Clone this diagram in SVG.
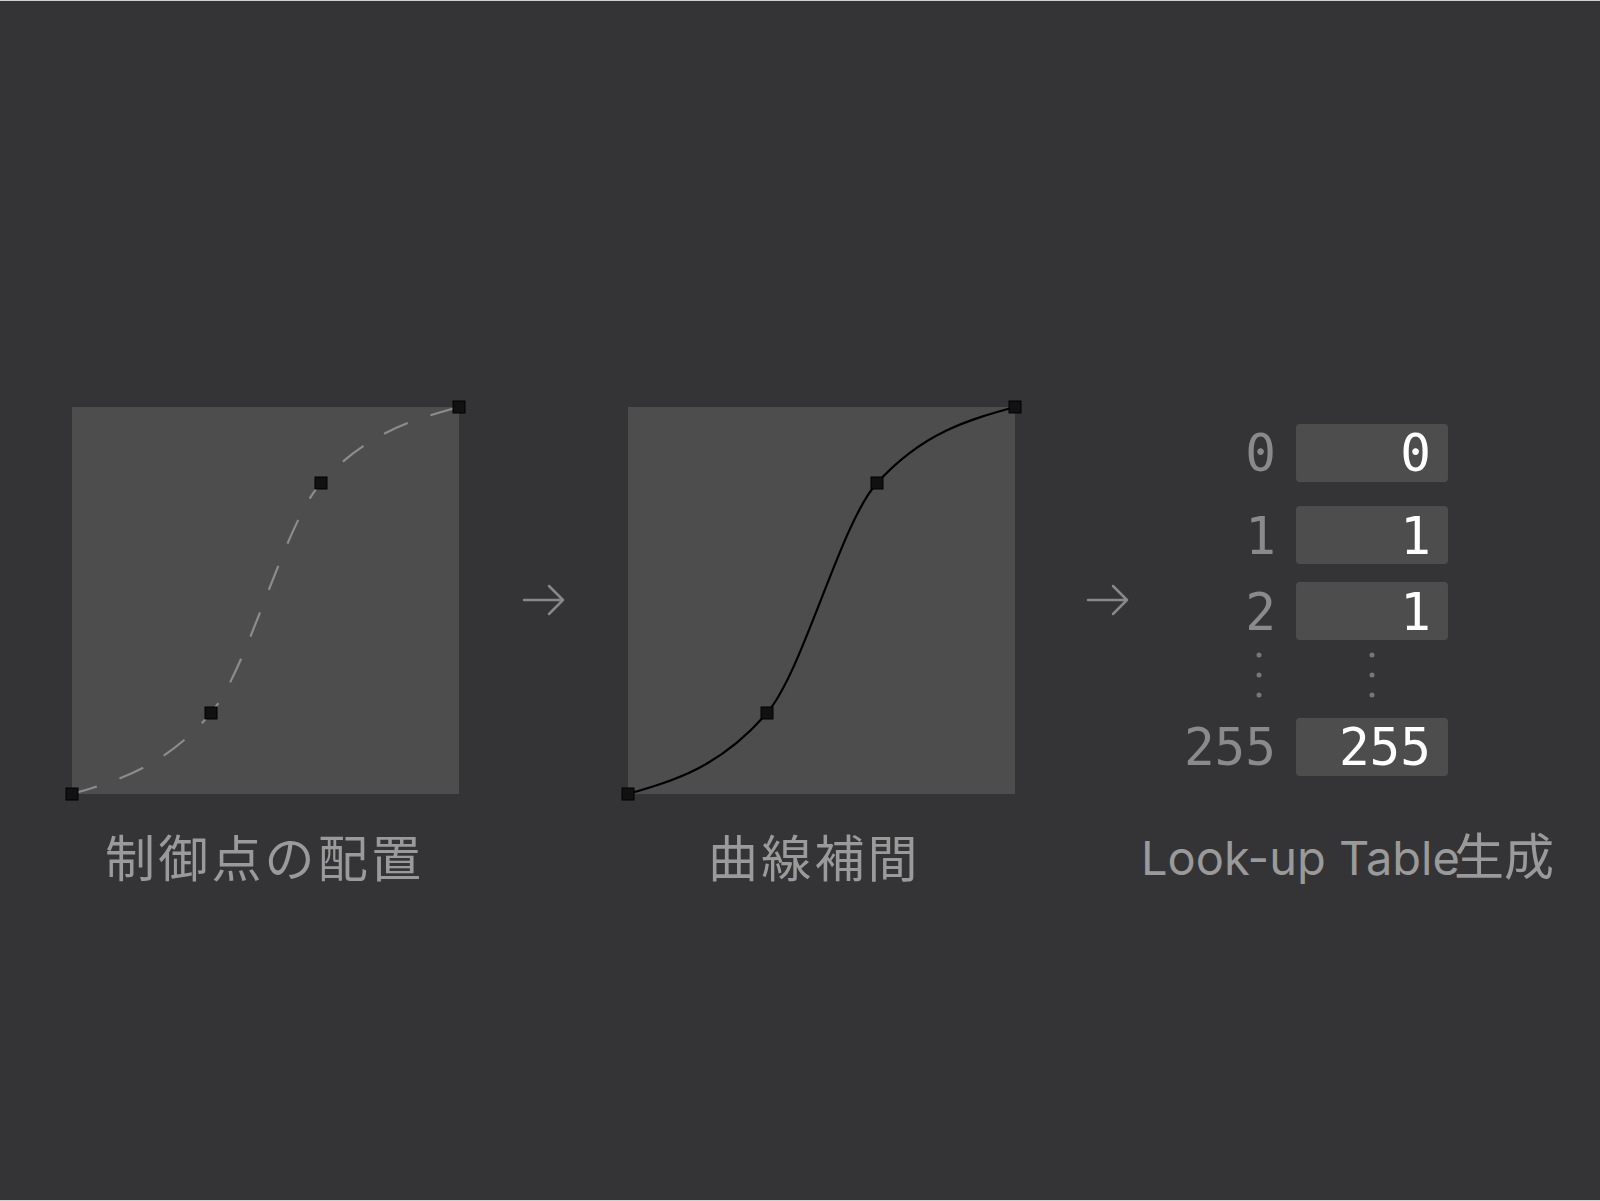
<svg xmlns="http://www.w3.org/2000/svg" width="1600" height="1201" viewBox="0 0 1600 1201">
<defs>
<style>
.bg{fill:#343436}
.panel{fill:#4d4d4d}
.pt{fill:#111111;stroke:#000000;stroke-width:1}
.label{font-family:"Inter","Noto Sans CJK JP",sans-serif;font-size:50px;fill:#9a9a9a}
.cjk{letter-spacing:3.2px}
.idx{font-family:"DejaVu Sans Mono","Liberation Mono",monospace;font-size:51px;fill:#8a8a8a;text-anchor:end}
.val{font-family:"DejaVu Sans Mono","Liberation Mono",monospace;font-size:51px;fill:#ffffff;text-anchor:end}
.cell{fill:#4d4d4d}
.dot{fill:#777777}
.arrow{fill:none;stroke:#888888;stroke-width:2.5;stroke-linecap:round;stroke-linejoin:round}
</style>
</defs>
<rect class="bg" x="0" y="0" width="1600" height="1201"/>
<rect x="0" y="0" width="1600" height="1" fill="#d0d0d0"/>
<rect x="0" y="1200" width="1600" height="1" fill="#d0d0d0"/>

<g id="node-control-points">
<rect class="panel" x="72" y="407" width="387" height="387"/>
<path d="M72,794 C118.33,780.5 164.67,767 211,713 C247.67,670.27 284.33,523.38 321,483 C367,432.34 413,419.67 459,407" fill="none" stroke="#8c8c8c" stroke-width="2.2" stroke-dasharray="26 24"/>
<rect class="pt" x="66" y="788" width="12" height="12"/>
<rect class="pt" x="205" y="707" width="12" height="12"/>
<rect class="pt" x="315" y="477" width="12" height="12"/>
<rect class="pt" x="453" y="401" width="12" height="12"/>
<text class="label cjk" x="105" y="877">制御点の配置</text>
</g>

<g id="node-curve-interp">
<rect class="panel" x="628" y="407" width="387" height="387"/>
<path d="M628,794 C674.33,780.5 720.67,767 767,713 C803.67,670.27 840.33,523.38 877,483 C923,432.34 969,419.67 1015,407" fill="none" stroke="#000000" stroke-width="2.2"/>
<rect class="pt" x="622" y="788" width="12" height="12"/>
<rect class="pt" x="761" y="707" width="12" height="12"/>
<rect class="pt" x="871" y="477" width="12" height="12"/>
<rect class="pt" x="1009" y="401" width="12" height="12"/>
<text class="label cjk" x="708" y="877">曲線補間</text>
</g>

<g id="node-lut">
<rect class="cell" x="1296" y="424" width="152" height="58" rx="4"/>
<rect class="cell" x="1296" y="506" width="152" height="58" rx="4"/>
<rect class="cell" x="1296" y="582" width="152" height="58" rx="4"/>
<rect class="cell" x="1296" y="718" width="152" height="58" rx="4"/>
<text class="idx" x="1276" y="471">0</text>
<text class="idx" x="1276" y="554">1</text>
<text class="idx" x="1276" y="630">2</text>
<text class="idx" x="1276" y="765">255</text>
<text class="val" x="1431" y="471">0</text>
<text class="val" x="1431" y="554">1</text>
<text class="val" x="1431" y="630">1</text>
<text class="val" x="1431" y="765">255</text>
<circle class="dot" cx="1259" cy="655" r="2.5"/>
<circle class="dot" cx="1259" cy="675" r="2.5"/>
<circle class="dot" cx="1259" cy="695" r="2.5"/>
<circle class="dot" cx="1372" cy="655" r="2.5"/>
<circle class="dot" cx="1372" cy="675" r="2.5"/>
<circle class="dot" cx="1372" cy="695" r="2.5"/>
<text class="label" x="1141" y="875"><tspan font-size="47">Look-up Table</tspan><tspan x="1454">生成</tspan></text>
</g>

<g id="connectors">
<path class="arrow" d="M524,600 H563 M549,586 L563,600 L549,614"/>
<path class="arrow" d="M1088,600 H1127 M1113,586 L1127,600 L1113,614"/>
</g>
</svg>
